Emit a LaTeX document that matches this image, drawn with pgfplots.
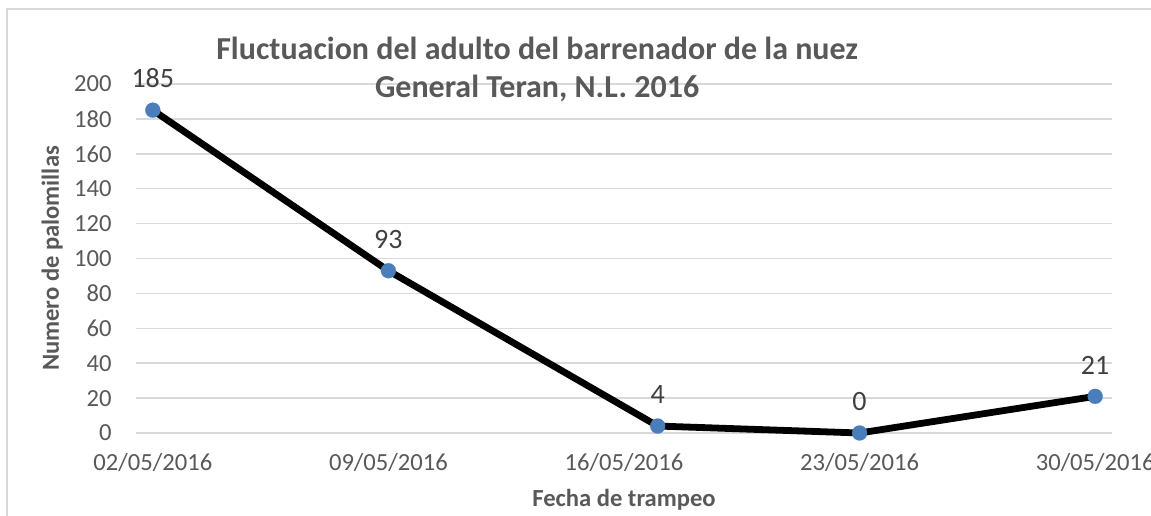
\documentclass[border=0pt]{standalone}
\usepackage{pgfplots}
\pgfplotsset{compat=1.18}
\usepackage{fontspec}
\setmainfont{Carlito}
\definecolor{txt}{HTML}{595959}
\definecolor{lbl}{HTML}{404040}
\definecolor{gridc}{HTML}{D9D9D9}
\definecolor{mk}{HTML}{4A7EBB}
\begin{document}
\begin{tikzpicture}
\draw[gridc, line width=0.75pt] (3.5pt,-20pt) -- (3.5pt,253pt) -- (620pt,253pt);
\begin{axis}[
  at={(68pt,41pt)}, anchor=south west, scale only axis,
  width=488pt, height=174.5pt,
  xmin=-0.5, xmax=28.5, ymin=0, ymax=200,
  clip=false,
  xtick={0,7,14,21,28},
  xticklabels={02/05/2016,09/05/2016,16/05/2016,23/05/2016,30/05/2016},
  ytick={0,20,...,200},
  axis line style={draw=none},
  major tick length=0pt,
  ymajorgrids,
  major grid style={gridc, line width=0.75pt},
  tick label style={font=\fontsize{12.3}{14}\selectfont, text=txt, inner sep=0pt},
  /pgf/number format/assume math mode=true,
  yticklabel shift=12pt,
  xticklabel shift=10pt,
  title={Fluctuacion del adulto del barrenador de la nuez\\General Teran, N.L. 2016},
  title style={at={(axis description cs:0.411,1.100)}, anchor=north, align=center,
    font=\bfseries\fontsize{16}{19}\selectfont, text=txt, inner sep=0pt},
  xlabel={Fecha de trampeo},
  xlabel style={at={(axis description cs:0.5,-0.212)}, anchor=base,
    font=\bfseries\fontsize{12.3}{14}\selectfont, text=txt, inner sep=0pt},
  ylabel={Numero de palomillas},
  ylabel style={at={(axis description cs:-0.086,0.5)}, anchor=center,
    font=\bfseries\fontsize{12.3}{14}\selectfont, text=txt, inner sep=0pt},
]
\addplot[black, line width=3.4pt, line join=round,
  mark=*, mark size=3.75pt, mark options={fill=mk, draw=mk, line width=0.1pt},
  nodes near coords,
  every node near coord/.append style={anchor=south, inner sep=0pt, yshift=11pt,
    font=\fontsize{14}{16}\selectfont, text=lbl}]
  coordinates {(0,185) (7,93) (15,4) (21,0) (28,21)};
\end{axis}
\pgfresetboundingbox
\useasboundingbox (0,0) rectangle (575.5pt,257.5pt);
\end{tikzpicture}
\end{document}
